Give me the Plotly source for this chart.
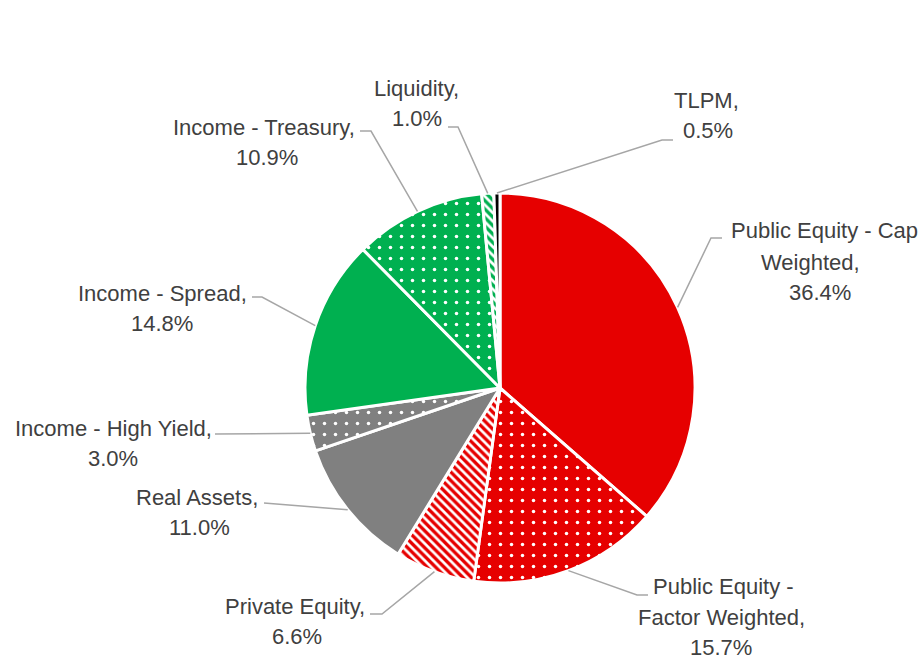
import math
import plotly.graph_objects as go

# ---- data ----
categories = ["Public Equity - Cap Weighted", "Public Equity - Factor Weighted", "Private Equity",
              "Real Assets", "Income - High Yield", "Income - Spread", "Income - Treasury",
              "Liquidity", "TLPM"]
values = [36.4, 15.7, 6.6, 11.0, 3.0, 14.8, 10.9, 1.0, 0.5]
label_lines = [
    ["Public Equity - Cap", "Weighted,", "36.4%"],
    ["Public Equity -", "Factor Weighted,", "15.7%"],
    ["Private Equity,", "6.6%"],
    ["Real Assets,", "11.0%"],
    ["Income - High Yield,", "3.0%"],
    ["Income - Spread,", "14.8%"],
    ["Income - Treasury,", "10.9%"],
    ["Liquidity,", "1.0%"],
    ["TLPM,", "0.5%"],
]

# ---- styles ----
RED, GRAY, GREEN, BLACK = "#e60000", "#808080", "#00b050", "#000000"
colors = [RED, RED, RED, GRAY, GRAY, GREEN, GREEN, GREEN, BLACK]
shapes_pat = ["", ".", "\\", "", ".", "", ".", "\\", ""]
pat_size = [11, 11, 6, 11, 11, 11, 11, 6, 11]
pat_sol = [0.08, 0.08, 0.45, 0.08, 0.08, 0.08, 0.08, 0.45, 0.08]

W, H = 923, 661
CX, CY, R = 500, 388, 195

# label layout: per line (x center, y center) in pixels
label_pos = [
    [(824, 231), (810, 262), (820, 292)],
    [(723, 586), (721, 617), (721, 647)],
    [(295, 606), (297, 636)],
    [(197, 497), (199, 527)],
    [(113, 428), (113, 458)],
    [(162, 293), (162, 323)],
    [(264, 127), (267, 157)],
    [(416, 89), (417, 119)],
    [(706, 101), (708, 131)],
]
# leader line: start near text, elbow
leader = [
    ((722, 238), (711, 238)),
    ((648, 595), (637, 595)),
    ((370, 614), (382, 614)),
    ((264, 503), (264, 503)),
    ((215, 434), (215, 434)),
    ((252, 297), (262, 297)),
    ((360, 131), (371, 131)),
    ((448, 127), (458, 127)),
    ((673, 140), (662, 140)),
]

def px(x):
    return x / W

def py(y):
    return 1 - y / H

fig = go.Figure(go.Pie(
    labels=categories, values=values, sort=False, direction="clockwise", rotation=0,
    textinfo="none", hoverinfo="label+percent",
    marker=dict(colors=colors, line=dict(color="white", width=3),
                pattern=dict(shape=shapes_pat, fgcolor="white", bgcolor=colors,
                             size=pat_size, solidity=pat_sol, fillmode="replace")),
    domain=dict(x=[px(CX - R), px(CX + R)], y=[py(CY + R), py(CY - R)]),
    showlegend=False,
))

FONT = dict(family="Liberation Sans, Arial", size=22, color="#404040")

total = sum(values)
cum = 0.0
annotations = []
shapes = []
for i, v in enumerate(values):
    th = 2 * math.pi * (cum + v / 2) / total
    cum += v
    ex, ey = CX + R * math.sin(th), CY - R * math.cos(th)
    (sx, sy), (bx, by) = leader[i]
    shapes.append(dict(type="path", xref="paper", yref="paper",
                       path=f"M {px(sx)} {py(sy)} L {px(bx)} {py(by)} L {px(ex)} {py(ey)}",
                       line=dict(color="#a6a6a6", width=1.5)))
    for t, (lx, ly) in zip(label_lines[i], label_pos[i]):
        annotations.append(dict(text=t, x=px(lx), y=py(ly), xref="paper", yref="paper",
                                xanchor="center", yanchor="middle", showarrow=False, font=FONT))

fig.update_layout(width=W, height=H, margin=dict(l=0, r=0, t=0, b=0),
                  paper_bgcolor="white", plot_bgcolor="white",
                  annotations=annotations, shapes=shapes)
fig.write_html("out.html", config={"displayModeBar": False},
               post_script="document.body.style.margin='0px';document.body.style.overflow='hidden';")
